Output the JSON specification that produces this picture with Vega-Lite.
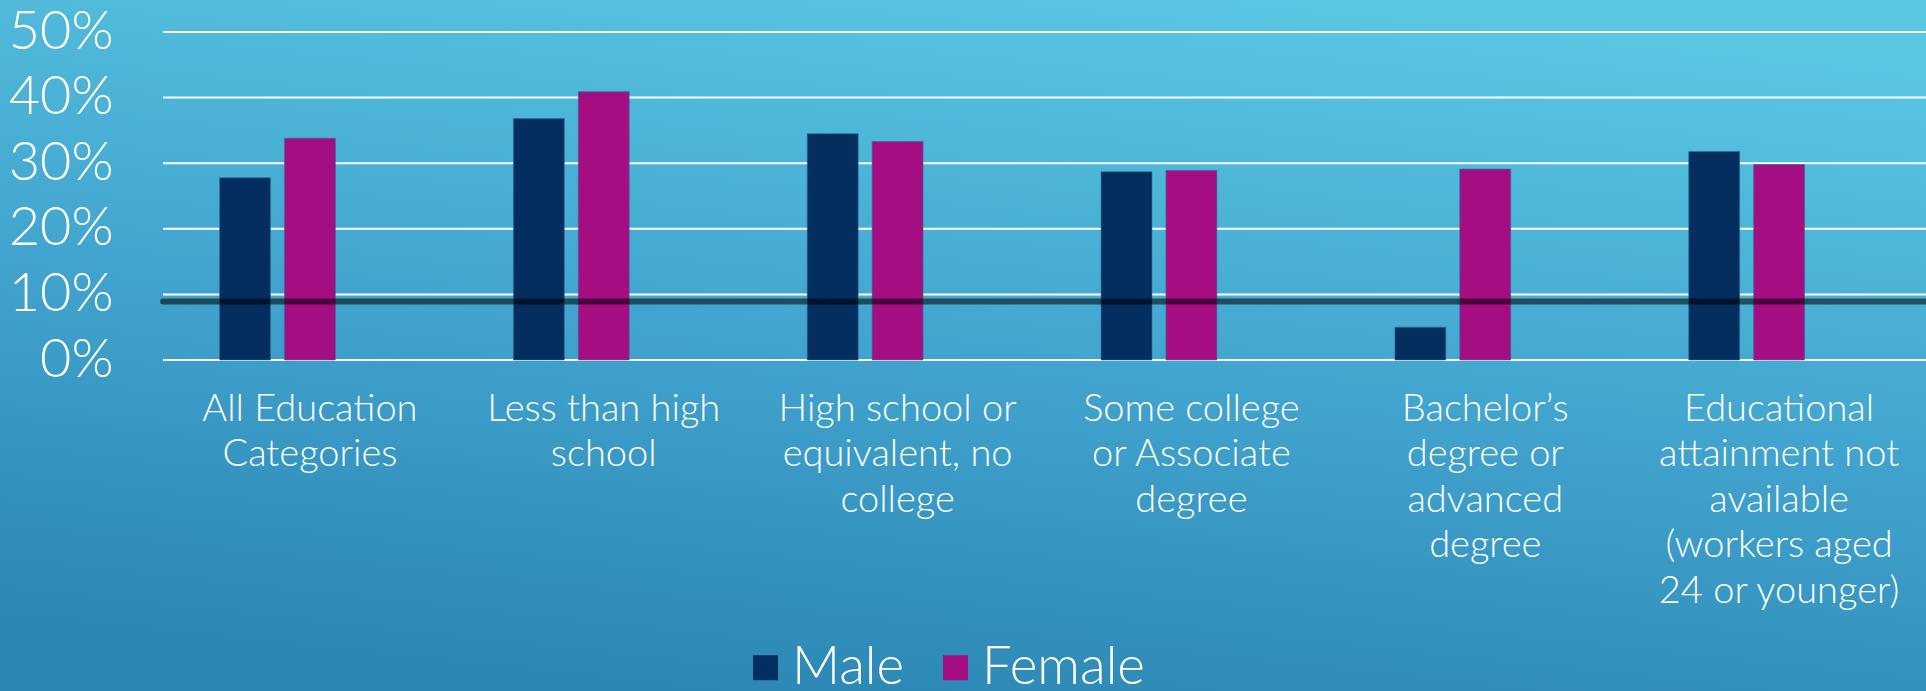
{
  "$schema": "https://vega.github.io/schema/vega-lite/v6.json",
  "width": 1763,
  "height": 328,
  "autosize": {"type": "none"},
  "padding": {"left": 163, "top": 32, "right": 0, "bottom": 331},
  "background": "#3E9FCA",
  "config": {
    "view": {"stroke": null},
    "font": "Lato"
  },
  "resolve": {"scale": {"x": "independent"}, "axis": {"x": "independent"}},
  "data": {
    "values": [
      {"category": "All Education Categories", "sex": "Male", "rate": 0.278},
      {"category": "All Education Categories", "sex": "Female", "rate": 0.338},
      {"category": "Less than high school", "sex": "Male", "rate": 0.368},
      {"category": "Less than high school", "sex": "Female", "rate": 0.409},
      {"category": "High school or equivalent, no college", "sex": "Male", "rate": 0.345},
      {"category": "High school or equivalent, no college", "sex": "Female", "rate": 0.333},
      {"category": "Some college or Associate degree", "sex": "Male", "rate": 0.287},
      {"category": "Some college or Associate degree", "sex": "Female", "rate": 0.289},
      {"category": "Bachelor's degree or advanced degree", "sex": "Male", "rate": 0.050},
      {"category": "Bachelor's degree or advanced degree", "sex": "Female", "rate": 0.291},
      {"category": "Educational attainment not available (workers aged 24 or younger)", "sex": "Male", "rate": 0.318},
      {"category": "Educational attainment not available (workers aged 24 or younger)", "sex": "Female", "rate": 0.298}
    ]
  },
  "layer": [
    {
      "data": {"values": [{"panel": "background"}]},
      "mark": {
        "type": "rect",
        "clip": false,
        "fill": {
          "gradient": "linear",
          "x1": 0.65, "y1": 0, "x2": 0.35, "y2": 1,
          "stops": [
            {"offset": 0, "color": "#59C6E2"},
            {"offset": 0.5, "color": "#42A5CF"},
            {"offset": 1, "color": "#2C87B4"}
          ]
        }
      },
      "encoding": {
        "x": {"datum": -0.0925, "type": "quantitative", "scale": {"domain": [0, 1], "nice": false, "zero": false}, "axis": null},
        "x2": {"datum": 1},
        "y": {"datum": 0.5488, "type": "quantitative"},
        "y2": {"datum": -0.5046}
      }
    },
    {
      "data": {"values": [{"tick": 0}, {"tick": 0.1}, {"tick": 0.2}, {"tick": 0.3}, {"tick": 0.4}, {"tick": 0.5}]},
      "mark": {"type": "rule", "color": "white", "strokeWidth": 2},
      "encoding": {"y": {"field": "tick", "type": "quantitative"}}
    },
    {
      "mark": {"type": "bar", "stroke": "#2F6E9A", "strokeWidth": 1, "strokeOpacity": 0.6},
      "encoding": {
        "x": {
          "field": "category",
          "type": "nominal",
          "sort": null,
          "scale": {"paddingInner": 0.385, "paddingOuter": 0.1925},
          "axis": {
            "title": null,
            "zindex": 1,
            "labelColor": "white",
            "labelFont": "Lato",
            "labelFontWeight": 300,
            "labelAngle": 0,
            "labelAlign": "center",
            "labelBaseline": "top",
            "labelFontSize": 38,
            "labelLineHeight": 45.5,
            "labelPadding": 30,
            "labelLimit": 0,
            "labelOverlap": false,
            "ticks": false,
            "tickSize": 0,
            "domain": false,
            "grid": false,
            "labelExpr": "indexof(datum.value, 'All Education') == 0 ? ['All Education', 'Categories'] : indexof(datum.value, 'Less than') == 0 ? ['Less than high', 'school'] : indexof(datum.value, 'High school') == 0 ? ['High school or', 'equivalent, no', 'college'] : indexof(datum.value, 'Some college') == 0 ? ['Some college', 'or Associate', 'degree'] : indexof(datum.value, 'Bachelor') == 0 ? ['Bachelor\u2019s', 'degree or', 'advanced', 'degree'] : ['Educational', 'attainment not', 'available', '(workers aged', '24 or younger)']"
          }
        },
        "xOffset": {
          "field": "sex",
          "type": "nominal",
          "scale": {"domain": ["Male", "Female", "Total"], "paddingInner": 0.215, "paddingOuter": 0}
        },
        "y": {
          "field": "rate",
          "type": "quantitative",
          "scale": {"domain": [0, 0.5], "nice": false},
          "axis": {
            "title": null,
            "zindex": 1,
            "labelColor": "white",
            "labelFont": "Lato",
            "labelFontWeight": 300,
            "values": [0, 0.1, 0.2, 0.3, 0.4, 0.5],
            "format": ".0%",
            "labelFontSize": 54,
            "labelPadding": 50,
            "ticks": false,
            "tickSize": 0,
            "domain": false,
            "grid": false
          }
        },
        "color": {
          "field": "sex",
          "type": "nominal",
          "scale": {"domain": ["Male", "Female"], "range": ["#052E60", "#A50E82"]},
          "legend": {
            "title": null,
            "orient": "none",
            "direction": "horizontal",
            "legendX": 576,
            "legendY": 609,
            "zindex": 1,
            "symbolType": "square",
            "symbolSize": 625,
            "symbolStrokeWidth": 0,
            "symbolOpacity": 1,
            "labelFontSize": 53,
            "labelFont": "Lato",
            "labelFontWeight": 300,
            "labelColor": "white",
            "labelOffset": 0,
            "columnPadding": 24,
            "labelLimit": 0
          }
        }
      }
    },
    {
      "data": {"values": [{"level": 0.089}]},
      "mark": {"type": "rule", "color": "#000000", "opacity": 0.55, "strokeWidth": 6, "strokeCap": "round"},
      "encoding": {"y": {"field": "level", "type": "quantitative"}}
    }
  ]
}
